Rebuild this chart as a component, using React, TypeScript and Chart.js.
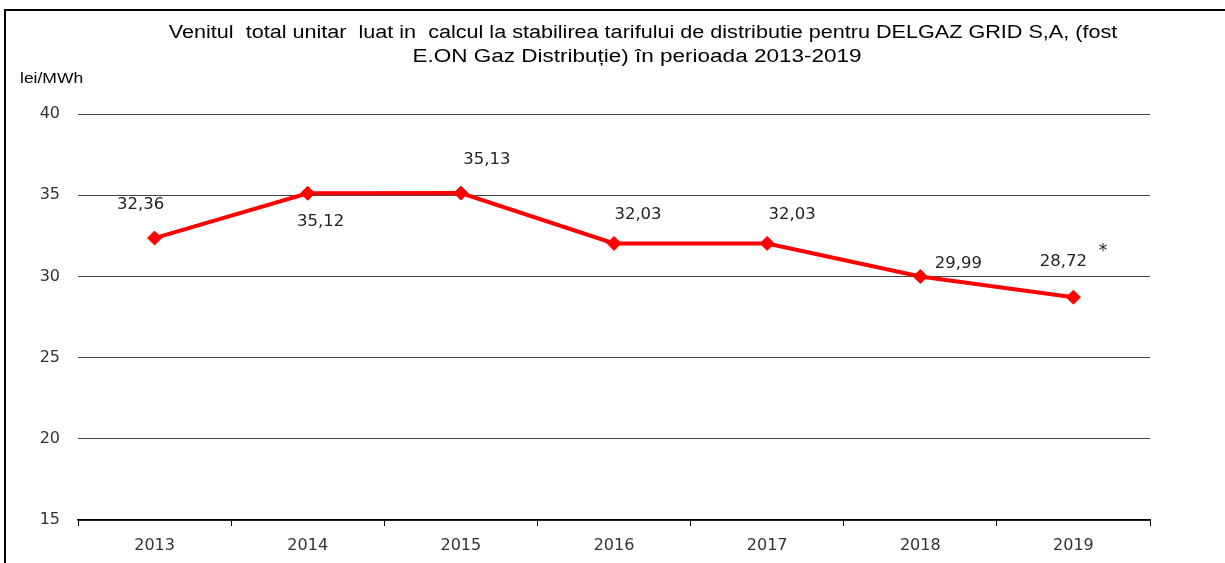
import React, { useEffect, useRef } from "react";
import { Chart, registerables } from "chart.js";

Chart.register(...registerables);

const years = ["2013", "2014", "2015", "2016", "2017", "2018", "2019"];
const values = [32.36, 35.12, 35.13, 32.03, 32.03, 29.99, 28.72];
const valueLabels = ["32,36", "35,12", "35,13", "32,03", "32,03", "29,99", "28,72"];
const titleLines = [
  "Venitul  total unitar  luat in  calcul la stabilirea tarifului de distributie pentru DELGAZ GRID S,A, (fost",
  "E.ON Gaz Distribuție) în perioada 2013-2019",
];
const unitLabel = "lei/MWh";
const footnoteMark = "*";

// label placement relative to each point (style only)
const labelOffsets: [number, number][] = [
  [-14, -33],
  [13, 29],
  [26, -33],
  [24, -28],
  [25, -28],
  [38, -12],
  [-10, -35],
];

function stretchedText(ctx: CanvasRenderingContext2D, text: string, x: number, y: number, sx: number) {
  ctx.save();
  ctx.translate(x, y);
  ctx.scale(sx, 1);
  ctx.fillText(text, 0, 0);
  ctx.restore();
}

const annotatePlugin = {
  id: "annotate",
  afterDraw(chart: any) {
    const ctx = chart.ctx as CanvasRenderingContext2D;
    ctx.save();
    ctx.fillStyle = "#000";
    ctx.font = "18px 'Liberation Sans', Arial, sans-serif";
    ctx.textAlign = "center";
    ctx.textBaseline = "middle";
    stretchedText(ctx, titleLines[0], 643, 33, 1.2);
    stretchedText(ctx, titleLines[1], 637, 57, 1.25);
    ctx.font = "14px 'Liberation Sans', Arial, sans-serif";
    ctx.textAlign = "left";
    stretchedText(ctx, unitLabel, 20, 79, 1.25);
    const meta = chart.getDatasetMeta(0);
    ctx.font = "15px 'DejaVu Sans', Verdana, sans-serif";
    ctx.fillStyle = "#222";
    ctx.textAlign = "center";
    meta.data.forEach((pt: any, i: number) => {
      const [dx, dy] = labelOffsets[i];
      stretchedText(ctx, valueLabels[i], pt.x + dx, pt.y + dy, 1.1);
      if (i === values.length - 1) {
        const w = ctx.measureText(valueLabels[i]).width * 1.1;
        ctx.font = "17px 'DejaVu Sans', Verdana, sans-serif";
        ctx.fillText(footnoteMark, pt.x + dx + w / 2 + 16, pt.y + dy - 11);
      }
    });
    ctx.restore();
  },
};

export default function App() {
  const ref = useRef<HTMLCanvasElement | null>(null);
  useEffect(() => {
    document.body.style.margin = "0";
    const chart = new Chart(ref.current!, {
      type: "line",
      data: {
        labels: years,
        datasets: [
          {
            data: values,
            borderColor: "#ff0000",
            backgroundColor: "#ff0000",
            borderWidth: 4,
            pointStyle: "rectRot",
            pointRadius: 7,
            pointBackgroundColor: "#ff0000",
            pointBorderColor: "#ff0000",
            pointBorderWidth: 1,
            tension: 0,
          },
        ],
      },
      options: {
        animation: false,
        responsive: false,
        maintainAspectRatio: false,
        layout: { padding: { left: 0, right: 75, top: 114, bottom: 0 } },
        plugins: {
          legend: { display: false },
          tooltip: { enabled: false },
          title: { display: false },
        },
        scales: {
          x: {
            offset: true,
            grid: {
              offset: true,
              drawOnChartArea: false,
              drawTicks: true,
              tickLength: 6,
              color: "#000",
              lineWidth: 1,
            },
            border: { display: true, color: "#000", width: 1.5 },
            ticks: {
              color: "#333",
              font: { family: "'DejaVu Sans', Verdana, sans-serif", size: 16 },
              padding: 10,
              maxRotation: 0,
            },
            afterFit(scale: any) {
              scale.height = 43;
            },
          },
          y: {
            min: 15,
            max: 40,
            ticks: {
              stepSize: 5,
              color: "#333",
              padding: 18,
              font: { family: "'DejaVu Sans', Verdana, sans-serif", size: 16 },
            },
            grid: { drawTicks: false, color: "#444", lineWidth: 1 },
            border: { display: false },
            afterFit(scale: any) {
              scale.width = 78;
            },
          },
        },
      },
      plugins: [annotatePlugin],
    });
    return () => chart.destroy();
  }, []);
  return (
    <div style={{ position: "relative", width: 1225, height: 563, background: "#fff", overflow: "hidden" }}>
      <div
        style={{
          position: "absolute",
          left: 4,
          top: 9,
          width: 1240,
          height: 600,
          borderLeft: "2px solid #000",
          borderTop: "2px solid #000",
        }}
      />
      <canvas ref={ref} width={1225} height={563} style={{ position: "absolute", left: 0, top: 0 }} />
    </div>
  );
}
